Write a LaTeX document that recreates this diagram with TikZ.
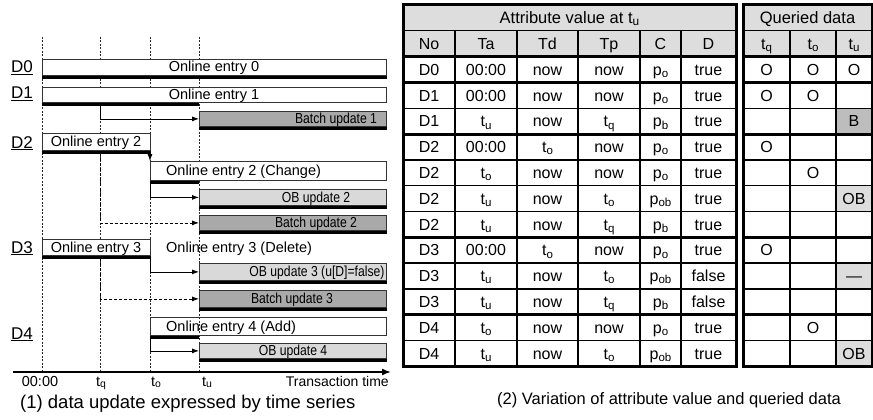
\documentclass[tikz,border=0pt]{standalone}
\usepackage{fontspec}
\setmainfont{Liberation Sans}
\newfontfamily\narrowfont[FakeStretch=0.84]{Liberation Sans}
\usetikzlibrary{arrows.meta}
\definecolor{batchgray}{HTML}{A9A9A9}
\definecolor{obgray}{HTML}{D9D9D9}
\definecolor{hdrgray}{HTML}{DDDDDD}
\definecolor{bcell}{HTML}{BDBDBD}
\definecolor{edge}{HTML}{333333}
\makeatletter
\newcommand{\sbx}[2]{#1\raisebox{-0.25ex}{\fontsize{\fpeval{0.72*\f@size}}{1}\selectfont #2}}
\makeatother
\begin{document}
\begin{tikzpicture}[x=1pt,y=-1pt,
  ebox/.style={draw=edge,line width=0.8pt,inner sep=0pt,anchor=north west},
  bar/.style={line width=3.6pt,black},
  gridline/.style={dash pattern=on 2pt off 1.5pt,line width=0.6pt,black!85},
  arr/.style={line width=0.8pt,-{Latex[length=7pt,width=5pt]}},
  darr/.style={arr,dash pattern=on 3pt off 2pt},
  lab/.style={inner sep=0pt,anchor=base,font=\fontsize{14.5}{16}\selectfont},
  nlab/.style={inner sep=0pt,anchor=base,font=\narrowfont\fontsize{14.5}{16}\selectfont},
  dlab/.style={inner sep=0pt,anchor=base,font=\fontsize{17}{19}\selectfont},
  cell/.style={inner sep=0pt,anchor=base,font=\fontsize{16}{18}\selectfont},
  captext/.style={inner sep=0pt,anchor=base west},
  tline/.style={line width=3pt,black},
  nline/.style={line width=1.4pt,black}]
\useasboundingbox (0,0) rectangle (873,420);
% ---------- left: time series ----------
\coordinate (t0) at (42,37);
\coordinate (tq) at (100,37);
\coordinate (to) at (150,37);
\coordinate (tu) at (199,37);
\coordinate (axL) at (13,372);
\coordinate (axR) at (391,372);
\foreach \n in {t0,tq,to,tu} \draw[gridline] (\n) -- (\n |- axL);
\node[ebox,fill=white,minimum width=344pt,minimum height=16pt] (b0) at (42,59) {};
\node[ebox,fill=white,minimum width=344pt,minimum height=15pt] (b1) at (42,87) {};
\node[ebox,fill=batchgray,minimum width=187pt,minimum height=15pt] (bu1) at (199,111) {};
\node[ebox,fill=white,minimum width=108pt,minimum height=17pt] (b2) at (42,133) {};
\node[ebox,fill=white,minimum width=236pt,minimum height=19pt] (b2c) at (150,161) {};
\node[ebox,fill=obgray,minimum width=187pt,minimum height=16pt] (ob2) at (199,189) {};
\node[ebox,fill=batchgray,minimum width=187pt,minimum height=15pt] (bu2) at (199,215) {};
\node[ebox,fill=white,minimum width=108pt,minimum height=16pt] (b3) at (42,239) {};
\node[ebox,fill=obgray,minimum width=187pt,minimum height=17pt] (ob3) at (199,263) {};
\node[ebox,fill=batchgray,minimum width=187pt,minimum height=17pt] (bu3) at (199,290) {};
\node[ebox,minimum width=236pt,minimum height=18pt] (b4) at (150,317) {};
\node[ebox,fill=obgray,minimum width=187pt,minimum height=15pt] (ob4) at (199,343) {};
\foreach \n in {b0,b1,bu1,b2,b2c,ob2,bu2,b3,ob3,bu3,b4,ob4}
  \coordinate (s\n) at ([yshift=-1.8pt]\n.south west);
\foreach \n in {b0,bu1,b2,ob2,bu2,b3,ob3,bu3,ob4}
  \draw[bar] (s\n) -- (s\n -| \n.east);
\foreach \n in {b1,b2c,b4}
  \draw[bar] (s\n) -- (s\n -| tu);
% connectors
\draw[arr] (sb1 -| tq) |- (bu1.west);
\draw[arr] (sb2 -| to) -- (b2c.north west);
\draw[arr] (sb2c -| to) |- (ob2.west);
\draw[darr] (sb2 -| tq) |- (bu2.west);
\draw[arr] (sb3 -| to) |- (ob3.west);
\draw[darr] (sb3 -| tq) |- (bu3.west);
\draw[arr] (sb4 -| to) |- (ob4.west);
% texts
\node[lab] (x-b0) at (214,72) {Online entry 0};
\node[lab] (x-b1) at (214,99.5) {Online entry 1};
\node[nlab] (x-bu1) at (336,123.5) {Batch update 1};
\node[lab] (x-b2) at (96,146.5) {Online entry 2};
\node[lab,anchor=base west] (x-b2c) at (166,175.5) {Online entry 2 (Change)};
\node[nlab] (x-ob2) at (316,202) {OB update 2};
\node[nlab] (x-bu2) at (316,227.5) {Batch update 2};
\node[lab] (x-b3) at (96,252) {Online entry 3};
\node[lab,anchor=base west] (x-b3d) at (166,252) {Online entry 3 (Delete)};
\node[nlab] (x-ob3) at (317,276.5) {OB update 3 (u[D]=false)};
\node[nlab] (x-bu3) at (292,303.5) {Batch update 3};
\node[lab,anchor=base west] (x-b4) at (166,331) {Online entry 4 (Add)};
\node[nlab] (x-ob4) at (293,355.5) {OB update 4};
\node[dlab] (l0) at (22,73) {\underline{D0}};
\node[dlab] (l1) at (22,99) {\underline{D1}};
\node[dlab] (l2) at (22,148) {\underline{D2}};
\node[dlab] (l3) at (22,253) {\underline{D3}};
\node[dlab] (l4) at (22,339) {\underline{D4}};
% axis
\draw[line width=1.6pt,-{Latex[length=9pt,width=7pt]}] (axL) -- (axR);
\node[lab] (a0) at (40,386) {00:00};
\node[lab] (aq) at (101,386) {\sbx{t}{q}};
\node[lab] (ao) at (156,386) {\sbx{t}{o}};
\node[lab] (au) at (207,386) {\sbx{t}{u}};
\node[lab,anchor=base east,font=\fontsize{14}{16}\selectfont] (at) at (389,386) {Transaction time};
\node[captext,font=\fontsize{18.5}{20}\selectfont] (cap1) at (20,408) {(1) data update expressed by time series};
% ---------- right: table ----------
\fill[hdrgray] (403,5) rectangle (736,56.6);
\fill[hdrgray] (743,5) rectangle (872,56.6);
\fill[bcell] (836,108.2) rectangle (872,134);
\fill[hdrgray] (836,185.6) rectangle (872,211.4);
\fill[hdrgray] (836,263) rectangle (872,288.8);
\fill[hdrgray] (836,340.4) rectangle (872,366.2);
\foreach \i in {1,4,6,7,8,10,11,13} {
  \draw[nline] (403,{5+\i*25.8}) -- (736,{5+\i*25.8});
  \draw[nline] (743,{5+\i*25.8}) -- (872,{5+\i*25.8});
}
\foreach \x in {455,517,578,640,681,790,836}
  \draw[nline] (\x,30.8) -- (\x,366.2);
\foreach \i in {2,3,5,9,12} {
  \draw[tline] (403,{5+\i*25.8}) -- (736,{5+\i*25.8});
  \draw[tline] (743,{5+\i*25.8}) -- (872,{5+\i*25.8});
}
\draw[tline] (403,5) rectangle (736,366.2);
\draw[tline] (743,5) rectangle (872,366.2);
\node[cell,font=\fontsize{16.5}{18}\selectfont] (h1) at (569.5,23.8) {Attribute value at \sbx{t}{u}};
\node[cell,font=\fontsize{16.5}{18}\selectfont] (h2) at (807.5,23.8) {Queried data};
\foreach \k/\x/\t in {1/429/No,2/486/Ta,3/547.5/Td,4/609/Tp,5/660.5/C,6/708.5/D,7/766.5/\sbx{t}{q},8/813/\sbx{t}{o},9/854/\sbx{t}{u}}
  \node[cell] (hc\k) at (\x,49.5) {\t};
\foreach [count=\r from 2] \a/\b/\c/\d/\e/\f in {
  D0/00:00/now/now/\sbx{p}{o}/true,
  D1/00:00/now/now/\sbx{p}{o}/true,
  D1/\sbx{t}{u}/now/\sbx{t}{q}/\sbx{p}{b}/true,
  D2/00:00/\sbx{t}{o}/now/\sbx{p}{o}/true,
  D2/\sbx{t}{o}/now/now/\sbx{p}{o}/true,
  D2/\sbx{t}{u}/now/\sbx{t}{o}/\sbx{p}{ob}/true,
  D2/\sbx{t}{u}/now/\sbx{t}{q}/\sbx{p}{b}/true,
  D3/00:00/\sbx{t}{o}/now/\sbx{p}{o}/true,
  D3/\sbx{t}{u}/now/\sbx{t}{o}/\sbx{p}{ob}/false,
  D3/\sbx{t}{u}/now/\sbx{t}{q}/\sbx{p}{b}/false,
  D4/\sbx{t}{o}/now/now/\sbx{p}{o}/true,
  D4/\sbx{t}{u}/now/\sbx{t}{o}/\sbx{p}{ob}/true} {
  \node[cell] (r\r c1) at (429,{5+(\r+0.5)*25.8+5.8}) {\a};
  \node[cell] (r\r c2) at (486,{5+(\r+0.5)*25.8+5.8}) {\b};
  \node[cell] (r\r c3) at (547.5,{5+(\r+0.5)*25.8+5.8}) {\c};
  \node[cell] (r\r c4) at (609,{5+(\r+0.5)*25.8+5.8}) {\d};
  \node[cell] (r\r c5) at (660.5,{5+(\r+0.5)*25.8+5.8}) {\e};
  \node[cell] (r\r c6) at (708.5,{5+(\r+0.5)*25.8+5.8}) {\f};
}
\foreach \r/\k/\x/\t in {2/1/766.5/O,2/2/813/O,2/3/854/O,3/1/766.5/O,3/2/813/O,4/3/854/B,
  5/1/766.5/O,6/2/813/O,7/3/854/OB,9/1/766.5/O,10/3/854/—,12/2/813/O,13/3/854/OB}
  \node[cell] (q\r c\k) at (\x,{5+(\r+0.5)*25.8+5.8}) {\t};
\node[captext,font=\fontsize{16.5}{18}\selectfont] (cap2) at (497,404) {(2) Variation of attribute value and queried data};
\end{tikzpicture}
\end{document}
